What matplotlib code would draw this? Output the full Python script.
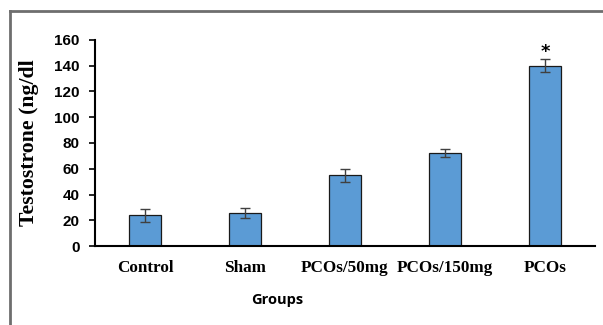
import matplotlib.pyplot as plt
from matplotlib.lines import Line2D

groups = ['Control', 'Sham', 'PCOs/50mg', 'PCOs/150mg', 'PCOs']
testosterone = [24, 25.5, 55, 72, 140]
sem = [5, 4, 5, 3, 5]
star_group = 'PCOs'


def main():
    fig = plt.figure(figsize=(6.03, 3.25), dpi=100)
    ax = fig.add_axes([0.1575, 0.243, 0.829, 0.634])

    x = range(len(groups))
    ax.bar(x, testosterone, width=0.32, color='#5B9BD5', edgecolor='#1a1a1a',
           linewidth=0.9, zorder=2)
    ax.errorbar(x, testosterone, yerr=sem, fmt='none', ecolor='#404040',
                elinewidth=1.0, capsize=3.5, capthick=1.0, zorder=3)

    i = groups.index(star_group)
    ax.text(i, testosterone[i] + sem[i] - 1.0, '*', ha='center', va='bottom',
            fontsize=13, fontweight='bold', color='black')

    ax.set_xlim(-0.5, len(groups) - 0.5)
    ax.set_ylim(0, 160)
    ax.set_yticks(range(0, 161, 20))
    ax.set_xticks(list(x))
    ax.set_xticklabels(groups, family='Liberation Serif', fontweight='bold', fontsize=12.3)
    ax.tick_params(axis='x', length=0, pad=10)
    ax.tick_params(axis='y', length=4, width=1.2, direction='out', pad=7)
    for lab in ax.get_yticklabels():
        lab.set_family('Liberation Sans')
        lab.set_fontweight('bold')
        lab.set_fontsize(11)

    for s in ['top', 'right']:
        ax.spines[s].set_visible(False)
    for s in ['left', 'bottom']:
        ax.spines[s].set_linewidth(1.5)

    ax.set_ylabel('Testostrone (ng/dl', family='Liberation Serif', fontweight='bold',
                  fontsize=15.7, labelpad=11)
    fig.text(277 / 603, 0.077, 'Groups', family='Open Sans', fontweight='bold',
             fontsize=10.5, ha='center', va='center')

    # frame lines around the figure
    fig.add_artist(Line2D([0.0166, 1.0], [0.966, 0.966], color='#6e6e6e', linewidth=2))
    fig.add_artist(Line2D([0.0166, 0.0166], [0.0, 0.966], color='#6e6e6e', linewidth=2))

    fig.savefig('out.png', dpi=100)


if __name__ == '__main__':
    main()
